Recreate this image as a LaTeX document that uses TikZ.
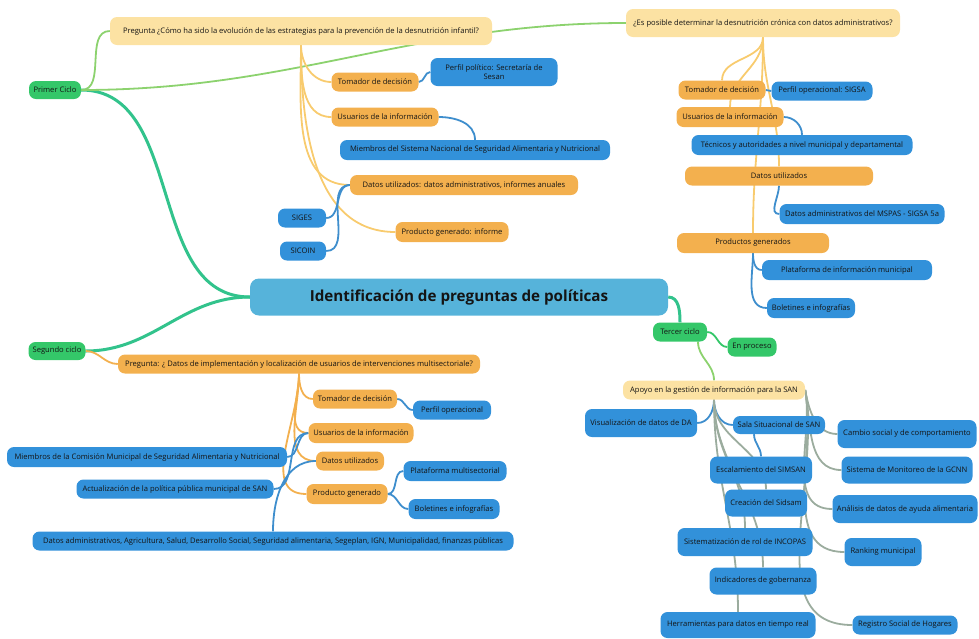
\documentclass[tikz,border=0pt]{standalone}
\usepackage{fontspec}
\setmainfont{Open Sans}
\usetikzlibrary{positioning, backgrounds}

\definecolor{verde}{RGB}{52,199,105}
\definecolor{crema}{RGB}{252,226,163}
\definecolor{naranja}{RGB}{243,176,78}
\definecolor{azul}{RGB}{50,145,218}
\definecolor{celeste}{RGB}{86,179,218}
\definecolor{texto}{RGB}{20,20,20}
\definecolor{lverde}{RGB}{50,195,140}
\definecolor{lamarillo}{RGB}{140,210,110}
\definecolor{lcrema}{RGB}{248,203,110}
\definecolor{lazul}{RGB}{62,142,205}

\tikzset{
  caja/.style={rounded corners=7pt, text=texto, font=\fontsize{7.6}{8.6}\selectfont,
    minimum height=19pt, inner xsep=3pt, inner ysep=2pt},
  ciclo/.style={caja, fill=verde},
  pregunta/.style={caja, fill=crema},
  tema/.style={caja, fill=naranja},
  dato/.style={caja, fill=azul},
  raiz/.style={caja, fill=celeste, rounded corners=9pt,
    font=\fontsize{15.2}{17}\selectfont\bfseries},
  enlace/.style={line width=1.8pt},
}

\begin{document}
\begin{tikzpicture}[x=1pt, y=1pt]
        \useasboundingbox (0,0) rectangle (979,-638);

        % centro
        \node (raiz) [raiz, minimum width=418, minimum height=37] at (459,-297) {Identificación de preguntas de políticas};

        % primer ciclo
        \node (primer) [ciclo, minimum width=52, minimum height=18] at (55,-90) {Primer Ciclo};
        \node (preg1) [pregunta, minimum width=382, minimum height=28] at (301,-31) {Pregunta ¿Cómo ha sido la evolución de las estrategias para la prevención de la desnutrición infantil?};
        \node (tomador1) [tema, minimum width=87] at (375,-82) {Tomador de decisión};
        \node (perfil1) [dato, minimum width=127, minimum height=28, align=center] at (494,-72) {Perfil político: Secretaría de\\Sesan};
        \node (usuarios1) [tema, minimum width=107] at (385,-117) {Usuarios de la información};
        \node (miembros1) [dato, minimum width=270, minimum height=20] at (475,-150) {Miembros del Sistema Nacional de Seguridad Alimentaria y Nutricional};
        \node (datos1) [tema, minimum width=228, minimum height=20] at (464,-185) {Datos utilizados: datos administrativos, informes anuales};
        \node (siges) [dato, minimum width=48] at (302,-218) {SIGES};
        \node (sicoin) [dato, minimum width=46] at (303,-251) {SICOIN};
        \node (producto1) [tema, minimum width=113, minimum height=20] at (452,-232) {Producto generado: informe};

        \node (posible) [pregunta, minimum width=274, minimum height=28] at (763,-23) {¿Es posible determinar la desnutrición crónica con datos administrativos?};
        \node (tomador3) [tema, minimum width=87] at (722,-90) {Tomador de decisión};
        \node (perfilsigsa) [dato, minimum width=101] at (822,-91) {Perfil operacional: SIGSA};
        \node (usuarios3) [tema, minimum width=107, minimum height=20] at (730,-117) {Usuarios de la información};
        \node (tecnicos) [dato, minimum width=221, minimum height=20] at (802,-145) {Técnicos y autoridades a nivel municipal y departamental};
        \node (datos3) [tema, minimum width=188] at (779,-176) {Datos utilizados};
        \node (mspas) [dato, minimum width=165, minimum height=20] at (862,-214) {Datos administrativos del MSPAS - SIGSA 5a};
        \node (productos3) [tema, minimum width=152, minimum height=20] at (753,-243) {Productos generados};
        \node (plataforma3) [dato, minimum width=170, minimum height=20] at (847,-270) {Plataforma de información municipal};
        \node (boletines3) [dato, minimum width=88, minimum height=20] at (811,-308) {Boletines e infografías};

        % segundo ciclo
        \node (segundo) [ciclo, minimum width=57, minimum height=18] at (57,-351) {Segundo ciclo};
        \node (preg2) [tema, minimum width=362] at (299,-364) {Pregunta: ¿ Datos de implementación y localización de usuarios de intervenciones multisectoriale?};
        \node (tomador2) [tema, minimum width=84] at (355,-399) {Tomador de decisión};
        \node (perfilop2) [dato, minimum width=78] at (452,-410) {Perfil operacional};
        \node (usuarios2) [tema, minimum width=105, minimum height=20] at (361,-433) {Usuarios de la información};
        \node (comision) [dato, minimum width=280, minimum height=20] at (147,-457) {Miembros de la Comisión Municipal de Seguridad Alimentaria y Nutricional};
        \node (datos2) [tema, minimum width=68] at (350,-461) {Datos utilizados};
        \node (multi) [dato, minimum width=103, minimum height=20] at (455,-471) {Plataforma multisectorial};
        \node (actualizacion) [dato, minimum width=197] at (175,-489) {Actualización de la política pública municipal de SAN};
        \node (producto2) [tema, minimum width=81, minimum height=20] at (347,-494) {Producto generado};
        \node (boletines2) [dato, minimum width=91, minimum height=20] at (454,-509) {Boletines e infografías};
        \node (datosadm) [dato, minimum width=481] at (273,-541) {Datos administrativos, Agricultura, Salud, Desarrollo Social, Seguridad alimentaria, Segeplan, IGN, Municipalidad, finanzas públicas};

        % tercer ciclo
        \node (tercer) [ciclo, minimum width=54] at (680,-332) {Tercer ciclo};
        \node (proceso) [ciclo, minimum width=49] at (752,-347) {En proceso};
        \node (apoyo) [pregunta, minimum width=182] at (714,-390) {Apoyo en la gestión de información para la SAN};
        \node (visualizacion) [dato, minimum width=112, minimum height=28] at (641,-423) {Visualización de datos de DA};
        \node (sala) [dato, minimum width=92, minimum height=18] at (779,-425) {Sala Situacional de SAN};
        \node (escalamiento) [dato, minimum width=102, minimum height=27] at (761,-470) {Escalamiento del SIMSAN};
        \node (creacion) [dato, minimum width=82, minimum height=27] at (766,-503) {Creación del Sidsam};
        \node (sistematizacion) [dato, minimum width=135, minimum height=28] at (745,-542) {Sistematización de rol de INCOPAS};
        \node (indicadores) [dato, minimum width=107, minimum height=27] at (763,-581) {Indicadores de gobernanza};
        \node (herramientas) [dato, minimum width=155, minimum height=26] at (738,-625) {Herramientas para datos en tiempo real};
        \node (cambio) [dato, minimum width=139, minimum height=28] at (907,-434) {Cambio social y de comportamiento};
        \node (sistema) [dato, minimum width=131, minimum height=27] at (907,-470) {Sistema de Monitoreo de la GCNN};
        \node (analisis) [dato, minimum width=145, minimum height=28] at (905,-509) {Análisis de datos de ayuda alimentaria};
        \node (ranking) [dato, minimum width=77, minimum height=28] at (883,-552) {Ranking municipal};
        \node (registro) [dato, minimum width=105] at (905,-625) {Registro Social de Hogares};

        \begin{scope}[on background layer]
        \begin{scope}[enlace]
        \draw[lverde, line width=3pt] (raiz.west) to[out=180, in=0] (primer.east);
        \draw[lverde, line width=3pt] (raiz.west) to[out=180, in=0] (segundo.east);
        \draw[lverde, line width=3pt] (raiz.east) to[out=0, in=90] (tercer.north);

        \draw[lamarillo] (primer.east) to[out=0, in=180] (preg1.west);
        \draw[lamarillo] (primer.east) to[out=0, in=180] (posible.west);
        \foreach \hijo in {tomador1, usuarios1, datos1, producto1}
          \draw[lcrema] (preg1.south) to[out=-90, in=180] (\hijo.west);
        \draw[lazul] (tomador1.east) to[out=0, in=180] (perfil1.west);
        \draw[lazul] (usuarios1.east) to[out=0, in=90] (miembros1.north);
        \draw[lazul] (datos1.west) to[out=180, in=0] (siges.east);
        \draw[lazul] (datos1.west) to[out=180, in=0] (sicoin.east);

        \foreach \hijo in {tomador3, usuarios3, datos3, productos3}
          \draw[lcrema] (posible.south) to[out=-90, in=90] (\hijo.north);
        \draw[lazul] (tomador3.east) to[out=0, in=180] (perfilsigsa.west);
        \draw[lazul] (usuarios3.east) to[out=0, in=90] (tecnicos.north);
        \draw[lazul] (datos3.south) to[out=-90, in=180] (mspas.west);
        \draw[lazul] (productos3.south) to[out=-90, in=180] (plataforma3.west);
        \draw[lazul] (productos3.south) to[out=-90, in=180] (boletines3.west);

        \draw[naranja] (segundo.east) to[out=0, in=180] (preg2.west);
        \foreach \hijo in {tomador2, usuarios2, datos2, producto2}
          \draw[naranja] (preg2.south) to[out=-90, in=180] (\hijo.west);
        \draw[lazul] (tomador2.east) to[out=0, in=180] (perfilop2.west);
        \draw[lazul] (usuarios2.west) to[out=180, in=0] (comision.east);
        \draw[lazul] (usuarios2.west) to[out=180, in=0] (actualizacion.east);
        \draw[lazul] (datos2.west) to[out=180, in=90] (datosadm.north);
        \draw[lazul] (producto2.east) to[out=0, in=180] (multi.west);
        \draw[lazul] (producto2.east) to[out=0, in=180] (boletines2.west);

        \draw[verde] (tercer.east) to[out=0, in=180] (proceso.west);
        \draw[lamarillo] ([xshift=18pt]tercer.south) to[out=-90, in=90] (apoyo.north);
        \draw[lazul] (apoyo.south) to[out=-90, in=0] (visualizacion.east);
        \draw[lazul] (apoyo.south) to[out=-90, in=180] (sala.west);
        \draw[lazul] ([xshift=-25pt]sala.south) to[out=-90, in=90] (escalamiento.north);
        \foreach \hijo in {creacion, sistematizacion, indicadores, herramientas}
          \draw[lcrema!50!lazul] (apoyo.south) to[out=-90, in=90] (\hijo.north);
        \foreach \hijo in {cambio, sistema, analisis, ranking, registro}
          \draw[lcrema!50!lazul] (apoyo.east) to[out=-80, in=180] (\hijo.west);
        \end{scope}
        \end{scope}

        \end{tikzpicture}
\end{document}
